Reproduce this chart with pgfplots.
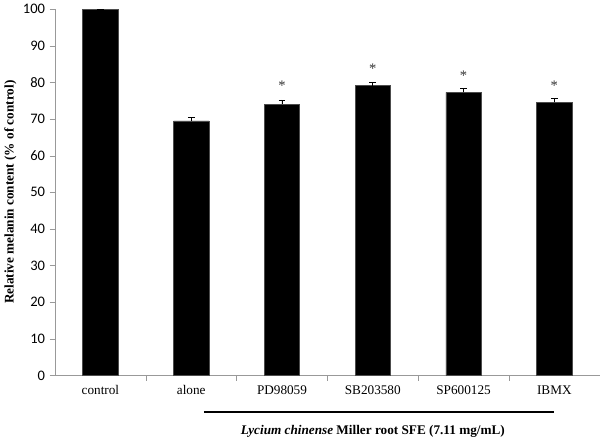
\documentclass[border=0pt]{standalone}
\usepackage{pgfplots}
\pgfplotsset{compat=1.18}
\usepackage{fontspec}
\setmainfont{Liberation Serif}
\newfontfamily\carlito{Carlito}

\begin{document}
\begin{tikzpicture}
\begin{axis}[
    scale only axis,
    width=412pt, height=277pt,
    xmin=-0.5, xmax=5.5,
    ymin=0, ymax=100,
    axis x line=bottom, axis y line=left,
    axis line style={-, gray!80},
    ytick={0,10,...,100},
    yticklabel style={font=\carlito\fontsize{11}{12}\selectfont},
    /pgf/number format/assume math mode=true,
    ytick style={gray!80},
    tick align=outside,
    major tick length=4pt,
    xtick={0.5,1.5,2.5,3.5,4.5},
    xticklabels={},
    xtick style={gray!80},
    extra x ticks={0,1,2,3,4,5},
    extra x tick labels={control,alone,PD98059,SB203580,SP600125,IBMX},
    extra x tick style={major tick length=0pt, tick label style={font=\fontsize{10}{12}\selectfont, yshift=-4pt}},
    ylabel={\bfseries Relative melanin content (\% of control)},
    ylabel style={font=\fontsize{10}{12}\selectfont, yshift=-2pt},
    clip=false,
]
\addplot[ybar, bar width=0.39, fill=black, draw=black!70,
    error bars/.cd, y dir=plus, y explicit,
    error bar style={black, line width=0.6pt},
    error mark options={rotate=90, mark size=2.5pt, black, line width=0.6pt}]
coordinates {
    (0,100) +- (0,0)
    (1,69.5) +- (0,1.0)
    (2,74.1) +- (0,1.1)
    (3,79.1) +- (0,1.0)
    (4,77.3) +- (0,1.1)
    (5,74.6) +- (0,1.1)
};
\addplot[draw=none, mark=none, nodes near coords, point meta=explicit symbolic,
    every node near coord/.append style={font=\fontsize{11}{12}\selectfont, anchor=center, text=black!80}]
coordinates {
    (2,79.0) [*]
    (3,83.6) [*]
    (4,81.7) [*]
    (5,79.0) [*]
};
\draw[black, line width=0.8pt] (axis cs:1.14,-10) -- (axis cs:5.0,-10);
\node[font=\fontsize{10}{12}\selectfont] at (axis cs:3.0,-15.3)
    {\textbf{\textit{Lycium chinense}} \textbf{Miller root SFE (7.11 mg/mL)}};
\end{axis}
\end{tikzpicture}
\end{document}
